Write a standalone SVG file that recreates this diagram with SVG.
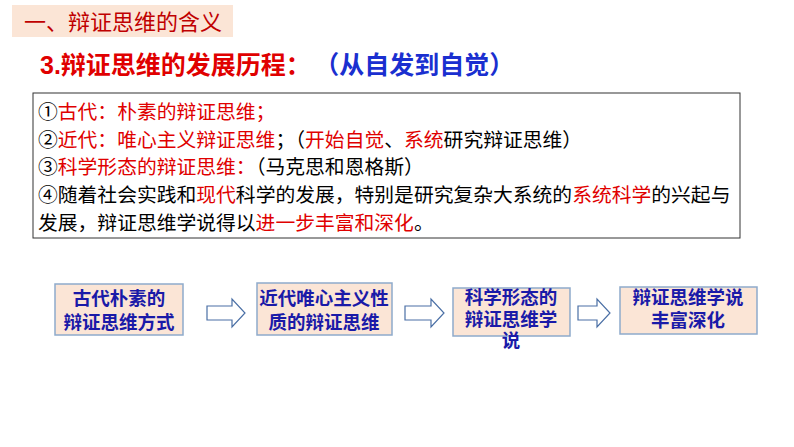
<svg xmlns="http://www.w3.org/2000/svg" width="794" height="447" viewBox="0 0 794 447">
<style>
text{font-family:"Liberation Sans","Noto Sans CJK SC",sans-serif}
.t{font-size:19.8px;fill:#000}
.r{fill:#e00000}
.n rect{fill:#fbe5d6;stroke:#8eaacb;stroke-width:1.5}
.n text{font-size:18.5px;font-weight:bold;fill:#1a1aa8;text-anchor:middle}
.a{fill:#fff;stroke:#4a6fa5;stroke-width:1.2}
</style>
<rect width="794" height="447" fill="#fff"/>
<g id="header"><rect x="12" y="5" width="221" height="32" fill="#fbe5d6"/>
<text x="24" y="30" font-size="22" fill="#c00000">一、辩证思维的含义</text></g>
<text x="40" y="74" font-size="25" font-weight="bold" fill="#e00000">3.辩证思维的发展历程：<tspan fill="#1a2fd0" dx="16">（从自发到自觉）</tspan></text>
<g id="textbox"><rect x="33" y="93" width="707" height="145" fill="#fff" stroke="#333" stroke-width="1"/>
<text class="t" x="38" y="119">①<tspan class="r">古代：朴素的辩证思维；</tspan></text>
<text class="t" x="38" y="147">②<tspan class="r">近代：唯心主义辩证思维</tspan>；（<tspan class="r">开始自觉</tspan>、<tspan class="r">系统</tspan>研究辩证思维）</text>
<text class="t" x="38" y="174">③<tspan class="r">科学形态的辩证思维：</tspan>（马克思和恩格斯）</text>
<text class="t" x="38" y="202">④随着社会实践和<tspan class="r">现代</tspan>科学的发展，特别是研究复杂大系统的<tspan class="r">系统科学</tspan>的兴起与</text>
<text class="t" x="38" y="230">发展，辩证思维学说得以<tspan class="r">进一步丰富和深化</tspan>。</text></g>
<g id="n1" class="n"><rect x="55" y="284" width="128" height="51"/><text x="119" y="305">古代朴素的</text><text x="119" y="329">辩证思维方式</text></g>
<g id="n2" class="n"><rect x="257" y="283" width="135" height="52"/><text x="324" y="305">近代唯心主义性</text><text x="324" y="329">质的辩证思维</text></g>
<g id="n3" class="n"><rect x="453" y="288" width="117" height="48"/><text x="511" y="304">科学形态的</text><text x="511" y="326">辩证思维学</text><text x="511" y="347">说</text></g>
<g id="n4" class="n"><rect x="620" y="287" width="137" height="47"/><text x="688" y="304">辩证思维学说</text><text x="688" y="327">丰富深化</text></g>
<g id="connectors">
<path class="a" d="M207,306 H232 V299 L245,313 L232,327 V320 H207 Z"/>
<path class="a" d="M405,306 H431 V299 L444,313 L431,327 V320 H405 Z"/>
<path class="a" d="M578,306 H597 V299 L610,313 L597,327 V320 H578 Z"/>
</g>
</svg>
